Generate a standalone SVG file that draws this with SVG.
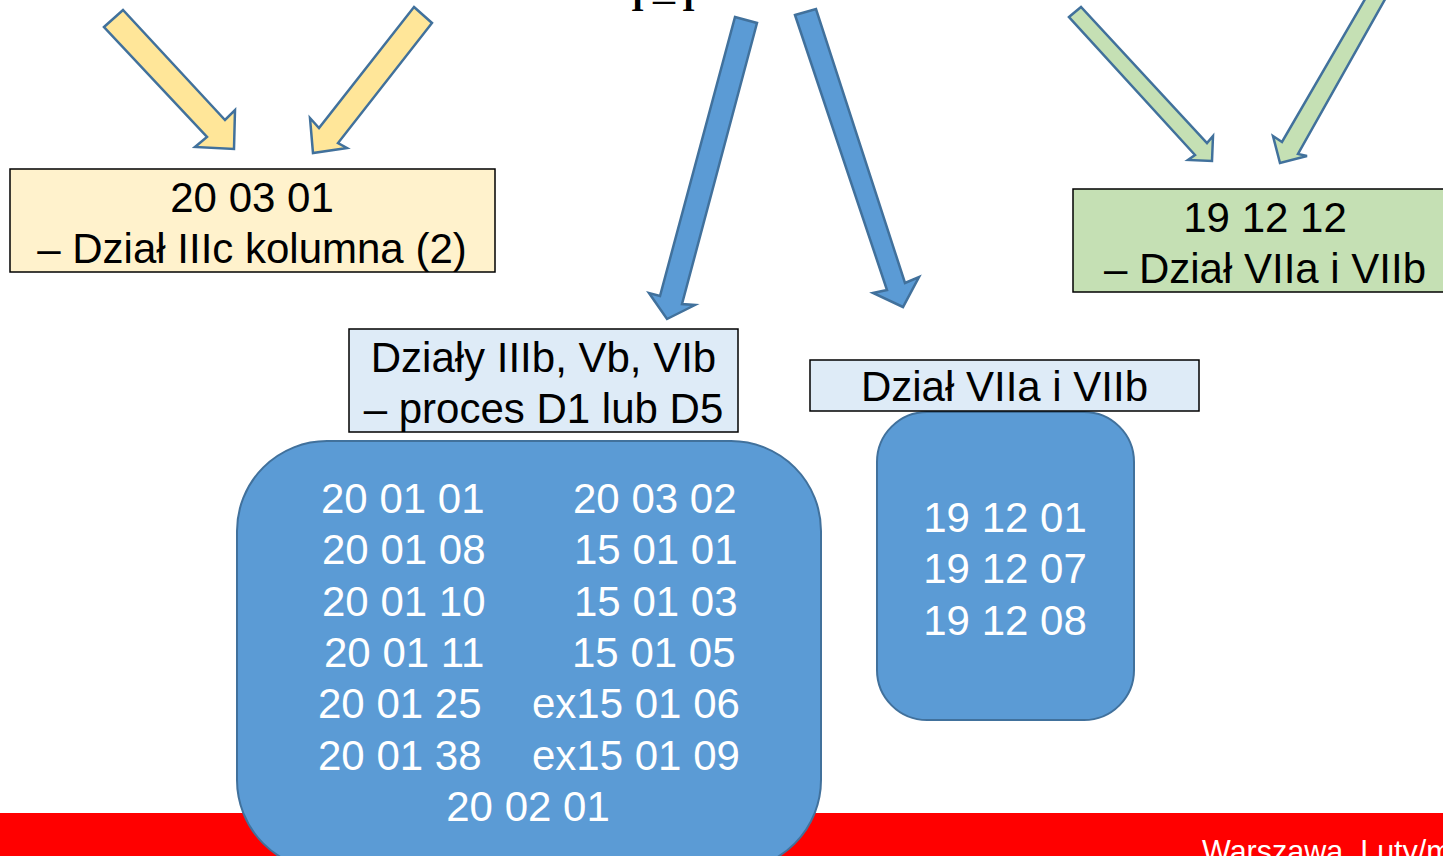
<svg xmlns="http://www.w3.org/2000/svg" width="1443" height="856" viewBox="0 0 1443 856">
<style>
.t{font-family:"Liberation Sans",Arial,sans-serif;font-size:42px;fill:#000}
.w{font-family:"Liberation Sans",Arial,sans-serif;font-size:42px;fill:#fff}
.c{text-anchor:middle}
.s{font-family:"Liberation Serif","Times New Roman",serif;font-weight:bold;font-size:34px;fill:#000}
.box{stroke:#000;stroke-width:1.5}
.arr{stroke:#41719C;stroke-width:2.5;stroke-linejoin:miter}
.y{fill:#FFE699}.g{fill:#C5E0B4}.b{fill:#5B9BD5}
.rr{fill:#5B9BD5;stroke:#41719C;stroke-width:2}
</style>
<rect x="0" y="0" width="1443" height="856" fill="#fff"/>
<rect id="footer" x="0" y="813" width="1443" height="43" fill="#FF0000"/>
<text x="1202" y="862" font-family="Liberation Sans, Arial, sans-serif" font-size="30.5" fill="#fff">Warszawa, Luty/m</text>
<text class="s" y="11"><tspan x="631">I</tspan><tspan x="653" textLength="22" lengthAdjust="spacingAndGlyphs">–</tspan><tspan x="682">I</tspan></text>
<g id="connectors">
<polygon class="arr y" points="104,27 123,10 225,120 235,110 234,149 195,147 207,137"/>
<polygon class="arr y" points="414,7 432,23 338,143 347,148 313,153 310,118 319,128"/>
<polygon class="arr g" points="1069,17 1081,7 1207,143 1213,136 1212,161 1188,160 1195,155"/>
<polygon class="arr g" points="1368,-6 1388,-6 1298,154 1307,156 1280,163 1273,136 1282,142"/>
<polygon class="arr b" points="735,17 757,23 682,304 695,305 667,319 649,293 660,296"/>
<polygon class="arr b" points="795,15 816,9 905,283 919,277 903,307 873,293 887,290"/>
</g>
<g id="node-yellow">
<rect class="box" x="10" y="169" width="485" height="103" fill="#FFF2CC"/>
<text class="t c" x="252" y="212">20 03 01</text>
<text class="t c" x="252" y="263">– Dział IIIc kolumna (2)</text>
</g>
<g id="node-green">
<rect class="box" x="1073" y="189" width="384" height="103" fill="#C5E0B4"/>
<text class="t c" x="1265" y="232">19 12 12</text>
<text class="t c" x="1265" y="283">– Dział VIIa i VIIb</text>
</g>
<g id="node-list-left">
<rect class="rr" x="237" y="441" width="584" height="429" rx="90" ry="90"/>
<text class="w" x="321" y="513">20 01 01</text>
<text class="w" x="573" y="513">20 03 02</text>
<text class="w" x="322" y="564">20 01 08</text>
<text class="w" x="574" y="564">15 01 01</text>
<text class="w" x="322" y="616">20 01 10</text>
<text class="w" x="574" y="616">15 01 03</text>
<text class="w" x="324" y="667">20 01 11</text>
<text class="w" x="572" y="667">15 01 05</text>
<text class="w" x="318" y="718">20 01 25</text>
<text class="w" x="532" y="718">ex15 01 06</text>
<text class="w" x="318" y="770">20 01 38</text>
<text class="w" x="532" y="770">ex15 01 09</text>
<text class="w c" x="528" y="821">20 02 01</text>
</g>
<g id="node-list-right">
<rect class="rr" x="877" y="412" width="257" height="308" rx="50" ry="50"/>
<text class="w c" x="1005" y="532">19 12 01</text>
<text class="w c" x="1005" y="583">19 12 07</text>
<text class="w c" x="1005" y="635">19 12 08</text>
</g>
<g id="node-dzialy">
<rect class="box" x="349" y="329" width="389" height="103" fill="#DEEBF7"/>
<text class="t c" x="543.5" y="372">Działy IIIb, Vb, VIb</text>
<text class="t c" x="543.5" y="423">– proces D1 lub D5</text>
</g>
<g id="node-dzial">
<rect class="box" x="810" y="360" width="389" height="51" fill="#DEEBF7"/>
<text class="t c" x="1004.5" y="401">Dział VIIa i VIIb</text>
</g>
</svg>
